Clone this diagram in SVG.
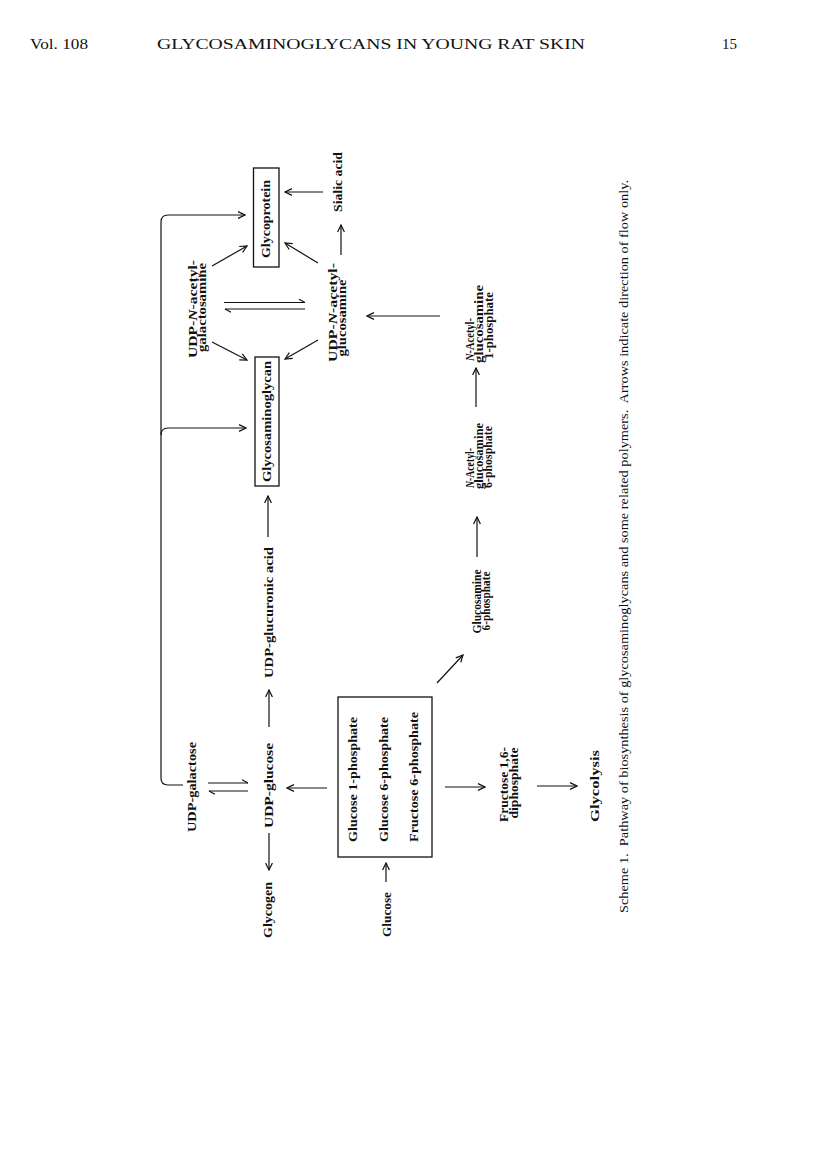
<svg xmlns="http://www.w3.org/2000/svg" width="816" height="1155" viewBox="0 0 816 1155">
<style>
.hd{font-family:"Liberation Serif",serif;font-size:15px;fill:#111}
.l{font-family:"Liberation Serif",serif;font-size:12px;font-weight:bold;fill:#111;text-anchor:middle}
.s{text-anchor:start}
.cap{font-family:"Liberation Serif",serif;font-size:12px;fill:#111;text-anchor:start}
.box{fill:none;stroke:#111;stroke-width:1.3}
.c{fill:none;stroke:#111;stroke-width:1.2}
.a{marker-end:url(#ah)}
.h{marker-end:url(#hp)}
</style>
<defs>
<marker id="ah" viewBox="0 0 10 10" refX="9" refY="5" markerWidth="10" markerHeight="10" markerUnits="userSpaceOnUse" orient="auto">
<path d="M2,1.6 L9,5 L2,8.4" fill="none" stroke="#111" stroke-width="1.2"/>
</marker>
<marker id="hp" viewBox="0 0 10 10" refX="9" refY="5" markerWidth="10" markerHeight="10" markerUnits="userSpaceOnUse" orient="auto">
<path d="M3,1.8 L9,5" fill="none" stroke="#111" stroke-width="1.2"/>
</marker>
</defs>
<rect width="816" height="1155" fill="#fff"/>
<g id="header">
<text class="hd" x="30" y="49" textLength="58" lengthAdjust="spacingAndGlyphs">Vol. 108</text>
<text class="hd" x="157" y="49" textLength="428" lengthAdjust="spacingAndGlyphs">GLYCOSAMINOGLYCANS IN YOUNG RAT SKIN</text>
<text class="hd" x="722" y="49" textLength="15" lengthAdjust="spacingAndGlyphs">15</text>
</g>
<g id="connectors">
<path class="c a" d="M323,192 L285,192"/>
<path class="c a" d="M341,255 L341,225"/>
<path class="c a" d="M318,263 L285,243"/>
<path class="c a" d="M212,266 L247,246"/>
<path class="c a" d="M212,342 L247,360"/>
<path class="c a" d="M318,340 L285,359"/>
<path class="c h" d="M224,302.5 L305,302.5"/>
<path class="c h" d="M305,309 L225,309"/>
<path class="c a" d="M440,316 L367,316"/>
<path class="c a" d="M476,407 L476,368"/>
<path class="c a" d="M477,557 L477,517"/>
<path class="c a" d="M437,683 L463,655"/>
<path class="c a" d="M445,787 L485,787"/>
<path class="c a" d="M537,786 L577,786"/>
<path class="c a" d="M386,882 L386,863"/>
<path class="c a" d="M327,788 L287,788"/>
<path class="c a" d="M269,833 L269,870"/>
<path class="c a" d="M269,727 L269,690"/>
<path class="c a" d="M268,537 L268,496"/>
<path class="c h" d="M208,783 L248,783"/>
<path class="c h" d="M248,791 L209,791"/>
<path class="c a" d="M183,785 H168 Q161,785 161,778 V222 Q161,215 168,215 H245"/>
<path class="c a" d="M161,435 Q161,428 168,428 H246"/>
</g>
<g id="glycoprotein">
<rect class="box" x="253.5" y="168" width="25.5" height="99"/>
<text class="l" transform="translate(270,219) rotate(-90)" textLength="78" lengthAdjust="spacingAndGlyphs">Glycoprotein</text>
</g>
<g id="glycosaminoglycan">
<rect class="box" x="255" y="357" width="24" height="129"/>
<text class="l" transform="translate(271,421.5) rotate(-90)" textLength="121" lengthAdjust="spacingAndGlyphs">Glycosaminoglycan</text>
</g>
<g id="sialic-acid">
<text class="l" transform="translate(342,182) rotate(-90)" textLength="60" lengthAdjust="spacingAndGlyphs">Sialic acid</text>
</g>
<g id="udp-galnac">
<text class="l" transform="translate(197,309) rotate(-90)" textLength="98" lengthAdjust="spacingAndGlyphs">UDP-<tspan font-style="italic">N</tspan>-acetyl-</text>
<text class="l" transform="translate(206,307.5) rotate(-90)" textLength="89" lengthAdjust="spacingAndGlyphs">galactosamine</text>
</g>
<g id="udp-glcnac">
<text class="l" transform="translate(337,312.5) rotate(-90)" textLength="99" lengthAdjust="spacingAndGlyphs">UDP-<tspan font-style="italic">N</tspan>-acetyl-</text>
<text class="l" transform="translate(346,318) rotate(-90)" textLength="77" lengthAdjust="spacingAndGlyphs">glucosamine</text>
</g>
<g id="glcnac-1p">
<text class="l s" transform="translate(474,361) rotate(-90)" textLength="43" lengthAdjust="spacingAndGlyphs"><tspan font-style="italic">N</tspan>-Acetyl-</text>
<text class="l s" transform="translate(483,363) rotate(-90)" textLength="78" lengthAdjust="spacingAndGlyphs">glucosamine</text>
<text class="l s" transform="translate(493,359) rotate(-90)" textLength="67" lengthAdjust="spacingAndGlyphs">1-phosphate</text>
</g>
<g id="glcnac-6p">
<text class="l s" transform="translate(474,488) rotate(-90)" textLength="40" lengthAdjust="spacingAndGlyphs"><tspan font-style="italic">N</tspan>-Acetyl-</text>
<text class="l s" transform="translate(483,489) rotate(-90)" textLength="66" lengthAdjust="spacingAndGlyphs">glucosamine</text>
<text class="l s" transform="translate(492,488) rotate(-90)" textLength="62" lengthAdjust="spacingAndGlyphs">6-phosphate</text>
</g>
<g id="glcn-6p">
<text class="l" transform="translate(481,601.5) rotate(-90)" textLength="64" lengthAdjust="spacingAndGlyphs">Glucosamine</text>
<text class="l" transform="translate(490,601) rotate(-90)" textLength="59" lengthAdjust="spacingAndGlyphs">6-phosphate</text>
</g>
<g id="udp-glucuronic">
<text class="l" transform="translate(273,612.5) rotate(-90)" textLength="131" lengthAdjust="spacingAndGlyphs">UDP-glucuronic acid</text>
</g>
<g id="udp-galactose">
<text class="l" transform="translate(196,787) rotate(-90)" textLength="90" lengthAdjust="spacingAndGlyphs">UDP-galactose</text>
</g>
<g id="udp-glucose">
<text class="l" transform="translate(273,785.5) rotate(-90)" textLength="85" lengthAdjust="spacingAndGlyphs">UDP-glucose</text>
</g>
<g id="glycogen">
<text class="l" transform="translate(272,910) rotate(-90)" textLength="56" lengthAdjust="spacingAndGlyphs">Glycogen</text>
</g>
<g id="glucose">
<text class="l" transform="translate(391,914.5) rotate(-90)" textLength="45" lengthAdjust="spacingAndGlyphs">Glucose</text>
</g>
<g id="hexose-phosphates">
<rect class="box" x="338" y="697" width="94" height="160"/>
<text class="l" transform="translate(357,779.5) rotate(-90)" textLength="125" lengthAdjust="spacingAndGlyphs">Glucose 1-phosphate</text>
<text class="l" transform="translate(388,779.5) rotate(-90)" textLength="125" lengthAdjust="spacingAndGlyphs">Glucose 6-phosphate</text>
<text class="l" transform="translate(418,777) rotate(-90)" textLength="130" lengthAdjust="spacingAndGlyphs">Fructose 6-phosphate</text>
</g>
<g id="fructose-16">
<text class="l" transform="translate(508,784.5) rotate(-90)" textLength="75" lengthAdjust="spacingAndGlyphs">Fructose 1,6-</text>
<text class="l" transform="translate(518,783) rotate(-90)" textLength="71" lengthAdjust="spacingAndGlyphs">diphosphate</text>
</g>
<g id="glycolysis">
<text class="l" transform="translate(599,786) rotate(-90)" textLength="72" lengthAdjust="spacingAndGlyphs">Glycolysis</text>
</g>
<g id="caption">
<text class="cap" transform="translate(628,913) rotate(-90)" textLength="733" lengthAdjust="spacingAndGlyphs" xml:space="preserve">Scheme 1.  Pathway of biosynthesis of glycosaminoglycans and some related polymers.  Arrows indicate direction of flow only.</text>
</g>
</svg>
